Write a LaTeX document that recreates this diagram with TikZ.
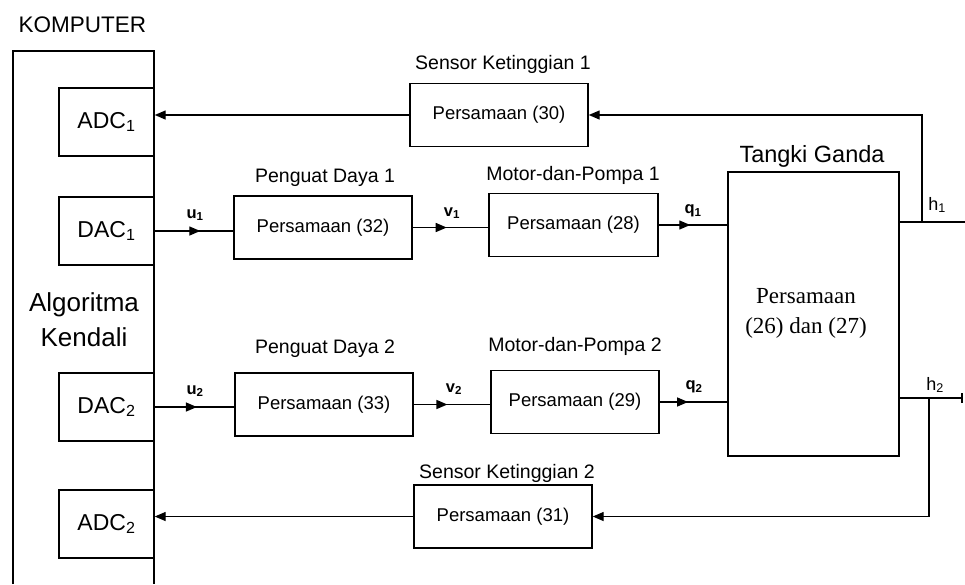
\documentclass[tikz,border=0pt]{standalone}
\usepackage{fontspec}
\setmainfont{Liberation Sans}
\newfontfamily\timesfont{Liberation Serif}
\usetikzlibrary{arrows.meta,decorations.markings}

\tikzset{
  garis/.style={black, line width=1.4pt},
  blok/.style={garis, draw, minimum width=178pt, minimum height=63pt, font=\fontsize{18.5}{22}\selectfont},
  konv/.style={blok, minimum width=95pt, minimum height=68pt, font=\fontsize{23}{26}\selectfont},
  judul/.style={anchor=base, font=\fontsize{19.5}{22}\selectfont},
  sinyal/.style={font=\bfseries\fontsize{16.5}{18}\selectfont, inner sep=0pt},
  midpanah/.style={garis, postaction={decorate},
    decoration={markings, mark=at position #1 with {\arrow{Triangle[length=11pt,width=9pt]}}}},
  umpan/.style={garis, -{Triangle[length=11pt,width=9pt]}}
}

\begin{document}
\begin{tikzpicture}[x=1pt,y=-1pt]
  \useasboundingbox (0,0) rectangle (965,584);

  % komputer
  \node[anchor=base west, font=\fontsize{22.5}{25}\selectfont] (komp) at (15,32) {KOMPUTER};
  \draw[garis] (13,584) |- (154,51) -- (154,584);
  \node[align=center, font=\fontsize{26}{35}\selectfont] (algo) at (84,320) {Algoritma\\Kendali};
  \foreach \nm/\y/\t in {adcA/122/ADC\textsubscript{1}, dacA/231/DAC\textsubscript{1},
                         dacB/407/DAC\textsubscript{2}, adcB/524/ADC\textsubscript{2}} {
      \node[konv] (\nm) at (106.5,\y) {\t};
  }

  % blok-blok
  \node[blok] (sensA) at (499,115) {Persamaan (30)};
  \node[blok] (penA) at (323,227.5) {Persamaan (32)};
  \node[blok, minimum width=169pt] (motA) at (573.5,225) {Persamaan (28)};
  \node[blok] (penB) at (324,404.5) {Persamaan (33)};
  \node[blok, minimum width=168pt] (motB) at (575,402) {Persamaan (29)};
  \node[blok] (sensB) at (503,516.5) {Persamaan (31)};
  \node[garis, draw, minimum width=171pt, minimum height=284pt] (tangki) at (813.5,314) {};
  \node[align=center, font=\timesfont\fontsize{23}{30}\selectfont] (tkteks) at (806,313) {Persamaan\\(26) dan (27)};

  % judul blok
  \node[judul] (jSensA) at (503,69) {Sensor Ketinggian 1};
  \node[judul] (jPenA) at (325,182) {Penguat Daya 1};
  \node[judul] (jMotA) at (573,180) {Motor-dan-Pompa 1};
  \node[judul, font=\fontsize{23.5}{26}\selectfont] (jTangki) at (812,162) {Tangki Ganda};
  \node[judul] (jPenB) at (325,353) {Penguat Daya 2};
  \node[judul] (jMotB) at (575,351) {Motor-dan-Pompa 2};
  \node[judul] (jSensB) at (507,478) {Sensor Ketinggian 2};

  % jalur maju
  \draw[midpanah=0.58] (dacA.east) -- (dacA.east -| penA.west);
  \draw[midpanah=0.45] (penA.east) -- (penA.east -| motA.west);
  \draw[midpanah=0.46] (motA.east) -- (motA.east -| tangki.west);
  \draw[midpanah=0.53] (dacB.east) -- (dacB.east -| penB.west);
  \draw[midpanah=0.44] (penB.east) -- (penB.east -| motB.west);
  \draw[midpanah=0.42] (motB.east) -- (motB.east -| tangki.west);

  \node[sinyal] (u1) at (195,215) {u\textsubscript{1}};
  \node[sinyal] (v1) at (452,213) {v\textsubscript{1}};
  \node[sinyal] (q1) at (693,211) {q\textsubscript{1}};
  \node[sinyal] (u2) at (195,391) {u\textsubscript{2}};
  \node[sinyal] (v2) at (454,389) {v\textsubscript{2}};
  \node[sinyal] (q2) at (694,387) {q\textsubscript{2}};
  \node[sinyal, font=\fontsize{18}{20}\selectfont] (h1) at (937,205) {h\textsubscript{1}};
  \node[sinyal, font=\fontsize{18}{20}\selectfont] (h2) at (935,385) {h\textsubscript{2}};

  % keluaran dan umpan balik
  \coordinate (hA) at (965,222);
  \coordinate (cabA) at (922,222);
  \draw[garis] (tangki.east |- hA) -- (hA);
  \draw[umpan] (cabA) |- (sensA.east);
  \draw[umpan] (sensA.west) -- (sensA.west -| adcA.east);

  \coordinate (hB) at (963,398);
  \coordinate (cabB) at (929,398);
  \draw[garis, -{Bar[width=10pt,line width=2.2pt]}] (tangki.east |- hB) -- (hB);
  \draw[umpan] (cabB) |- (sensB.east);
  \draw[umpan] (sensB.west) -- (sensB.west -| adcB.east);
\end{tikzpicture}
\end{document}
